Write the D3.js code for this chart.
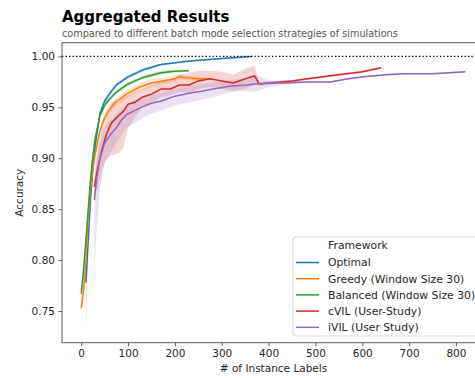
<!DOCTYPE html>
<html lang="en">
<head>
<meta charset="UTF-8">
<title>Aggregated Results</title>
<script src="https://cdn.jsdelivr.net/npm/d3@7"></script>
<style>
  body { margin: 0; background: #fff; }
  text { font-family: "DejaVu Sans", sans-serif; }
</style>
</head>
<body>
<svg></svg>
<script>
// ---- data ----
var optimalX  = [10, 15, 20, 25, 30, 40, 50, 60, 75, 100, 133, 170, 233, 300, 340, 365];
var optimalY  = [0.778, 0.82, 0.86, 0.89, 0.913, 0.944, 0.956, 0.963, 0.972, 0.980, 0.987, 0.992, 0.9956, 0.998, 0.9993, 1.0];
var optimalLo = [0.733, 0.80, 0.852, 0.886, 0.909, 0.941, 0.953, 0.961, 0.970, 0.978, 0.985, 0.991, 0.995, 0.997, 0.999, 0.9995];
var optimalHi = [0.790, 0.835, 0.866, 0.894, 0.917, 0.947, 0.959, 0.966, 0.974, 0.982, 0.989, 0.993, 0.9964, 0.999, 0.9998, 1.0];

var greedyX  = [0, 5, 10, 15, 20, 25, 30, 40, 50, 60, 75, 100, 125, 150, 175, 200, 210, 225, 250, 275];
var greedyY  = [0.753, 0.77, 0.80, 0.84, 0.87, 0.89, 0.905, 0.927, 0.94, 0.948, 0.956, 0.964, 0.970, 0.974, 0.976, 0.978, 0.980, 0.979, 0.978, 0.978];
var greedyLo = [0.745, 0.76, 0.79, 0.83, 0.862, 0.884, 0.899, 0.922, 0.936, 0.944, 0.952, 0.960, 0.966, 0.970, 0.973, 0.975, 0.977, 0.977, 0.976, 0.977];
var greedyHi = [0.762, 0.78, 0.81, 0.85, 0.878, 0.896, 0.911, 0.932, 0.944, 0.952, 0.960, 0.968, 0.974, 0.978, 0.979, 0.981, 0.983, 0.981, 0.980, 0.979];

var balancedX  = [0, 5, 10, 15, 20, 25, 30, 40, 50, 60, 75, 100, 130, 170, 200, 230];
var balancedY  = [0.767, 0.79, 0.82, 0.85, 0.88, 0.903, 0.92, 0.942, 0.952, 0.958, 0.965, 0.973, 0.979, 0.984, 0.9855, 0.986];
var balancedLo = [0.762, 0.785, 0.815, 0.845, 0.876, 0.899, 0.917, 0.939, 0.950, 0.956, 0.963, 0.971, 0.977, 0.982, 0.984, 0.985];
var balancedHi = [0.772, 0.795, 0.825, 0.855, 0.884, 0.907, 0.923, 0.945, 0.954, 0.960, 0.967, 0.975, 0.981, 0.986, 0.987, 0.987];

var cvilX  = [28, 35, 45, 55, 65, 80, 90, 100, 115, 130, 150, 170, 190, 210, 230, 250, 275, 300, 325, 350, 370, 380, 450, 500, 550, 600, 640];
var cvilY  = [0.872, 0.89, 0.91, 0.925, 0.935, 0.942, 0.946, 0.953, 0.955, 0.960, 0.963, 0.968, 0.968, 0.972, 0.972, 0.976, 0.978, 0.976, 0.974, 0.978, 0.981, 0.973, 0.976, 0.979, 0.982, 0.985, 0.989];
var cvilLo = [0.865, 0.87, 0.89, 0.90, 0.903, 0.905, 0.91, 0.93, 0.94, 0.95, 0.953, 0.96, 0.962, 0.965, 0.964, 0.968, 0.97, 0.968, 0.966, 0.968, 0.972, 0.971, 0.975, 0.978, 0.981, 0.984, 0.988];
var cvilHi = [0.880, 0.91, 0.93, 0.945, 0.955, 0.957, 0.96, 0.962, 0.965, 0.968, 0.972, 0.976, 0.978, 0.982, 0.984, 0.986, 0.986, 0.985, 0.982, 0.988, 0.991, 0.975, 0.977, 0.980, 0.983, 0.986, 0.990];

var ivilX  = [28, 33, 40, 50, 62, 75, 85, 97, 115, 133, 150, 170, 200, 233, 260, 282, 320, 354, 370, 400, 435, 480, 531, 570, 602, 650, 688, 750, 820];
var ivilY  = [0.859, 0.88, 0.90, 0.915, 0.923, 0.930, 0.937, 0.943, 0.947, 0.951, 0.954, 0.956, 0.961, 0.964, 0.966, 0.968, 0.971, 0.972, 0.973, 0.974, 0.974, 0.975, 0.975, 0.978, 0.980, 0.982, 0.983, 0.983, 0.985];
var ivilLo = [0.79, 0.83, 0.87, 0.895, 0.905, 0.915, 0.922, 0.93, 0.935, 0.94, 0.944, 0.947, 0.952, 0.955, 0.958, 0.96, 0.965, 0.966, 0.965, 0.970, 0.972, 0.974, 0.974, 0.977, 0.979, 0.981, 0.982, 0.982, 0.984];
var ivilHi = [0.87, 0.90, 0.915, 0.93, 0.937, 0.943, 0.948, 0.953, 0.957, 0.96, 0.962, 0.964, 0.968, 0.971, 0.973, 0.975, 0.977, 0.979, 0.982, 0.977, 0.976, 0.976, 0.976, 0.979, 0.981, 0.983, 0.984, 0.984, 0.986];

var xTicks = [0, 100, 200, 300, 400, 500, 600, 700, 800];
var yTicks = [0.75, 0.80, 0.85, 0.90, 0.95, 1.00];
var names  = ["Optimal", "Greedy (Window Size 30)", "Balanced (Window Size 30)", "cVIL (User-Study)", "iVIL (User Study)"];
var colors = ["#1f77b4", "#ff7f0e", "#2ca02c", "#d62728", "#9467bd"];

var series = [
    {x: optimalX, y: optimalY, lo: optimalLo, hi: optimalHi},
    {x: greedyX, y: greedyY, lo: greedyLo, hi: greedyHi},
    {x: balancedX, y: balancedY, lo: balancedLo, hi: balancedHi},
    {x: cvilX, y: cvilY, lo: cvilLo, hi: cvilHi},
    {x: ivilX, y: ivilY, lo: ivilLo, hi: ivilHi}
];

// ---- layout ----
var width = 475, height = 378;
var plotL = 62, plotT = 42.7, plotR = 485, plotB = 342.7;

var svg = d3.select('svg')
    .attr('width', width)
    .attr('height', height);

var x = d3.scaleLinear().domain([-41, 862]).range([plotL, plotR]);
var y = d3.scaleLinear().domain([0.7189, 1.0135]).range([plotB, plotT]);

svg.append('defs').append('clipPath').attr('id', 'clip')
    .append('rect')
    .attr('x', plotL).attr('y', plotT)
    .attr('width', plotR - plotL).attr('height', plotB - plotT);

var plot = svg.append('g').attr('clip-path', 'url(#clip)');

// confidence bands
var area = d3.area()
    .x(function(d){ return x(d[0]); })
    .y0(function(d){ return y(d[1]); })
    .y1(function(d){ return y(d[2]); });
var line = d3.line()
    .x(function(d){ return x(d[0]); })
    .y(function(d){ return y(d[1]); });

series.forEach(function(s, i){
    var pts = s.x.map(function(v, j){ return [v, s.lo[j], s.hi[j]]; });
    plot.append('path')
        .attr('d', area(pts))
        .attr('fill', colors[i])
        .attr('fill-opacity', 0.2)
        .attr('stroke', 'none');
});
series.forEach(function(s, i){
    var pts = s.x.map(function(v, j){ return [v, s.y[j]]; });
    plot.append('path')
        .attr('d', line(pts))
        .attr('fill', 'none')
        .attr('stroke', colors[i])
        .attr('stroke-width', 1.5)
        .attr('stroke-linejoin', 'round');
});

// dotted reference line at 1.0
svg.append('line')
    .attr('x1', plotL).attr('x2', width)
    .attr('y1', y(1.0)).attr('y2', y(1.0))
    .attr('stroke', '#000')
    .attr('stroke-width', 1.3)
    .attr('stroke-dasharray', '1.3,2.2');

// axes
var xAxis = d3.axisBottom(x).tickValues(xTicks).tickSize(3.5).tickPadding(3.5)
    .tickFormat(d3.format('d'));
var yAxis = d3.axisLeft(y).tickValues(yTicks).tickSize(3.5).tickPadding(3.5)
    .tickFormat(d3.format('.2f'));

var gx = svg.append('g').attr('transform', 'translate(0,' + plotB + ')').call(xAxis);
var gy = svg.append('g').attr('transform', 'translate(' + plotL + ',0)').call(yAxis);
[gx, gy].forEach(function(g){
    g.select('.domain').remove();
    g.selectAll('line').attr('stroke', '#333').attr('stroke-width', 0.8);
    g.selectAll('text').attr('font-size', 10.5).attr('fill', '#262626')
        .attr('font-family', '"DejaVu Sans", sans-serif');
});

// spines
svg.append('line').attr('x1', plotL).attr('x2', plotL).attr('y1', plotT).attr('y2', plotB)
    .attr('stroke', '#333').attr('stroke-width', 0.8);
svg.append('line').attr('x1', plotL).attr('x2', width).attr('y1', plotB).attr('y2', plotB)
    .attr('stroke', '#333').attr('stroke-width', 0.8);
svg.append('line').attr('x1', plotL).attr('x2', width).attr('y1', plotT).attr('y2', plotT)
    .attr('stroke', '#333').attr('stroke-width', 0.8);

// labels
svg.append('text')
    .attr('x', (plotL + plotR) / 2).attr('y', 372)
    .attr('text-anchor', 'middle')
    .attr('font-size', 10.5).attr('fill', '#262626')
    .text('# of Instance Labels');
svg.append('text')
    .attr('transform', 'translate(23,' + ((plotT + plotB) / 2) + ') rotate(-90)')
    .attr('text-anchor', 'middle')
    .attr('font-size', 10.5).attr('fill', '#262626')
    .text('Accuracy');

svg.append('text')
    .attr('x', plotL).attr('y', 22)
    .attr('font-size', 15).attr('font-weight', 'bold').attr('fill', '#000')
    .text('Aggregated Results');
svg.append('text')
    .attr('x', plotL).attr('y', 37)
    .attr('font-size', 9.7).attr('fill', '#555')
    .text('compared to different batch mode selection strategies of simulations');

// legend
var lg = svg.append('g').attr('transform', 'translate(293,237)');
lg.append('rect')
    .attr('width', 195).attr('height', 99)
    .attr('rx', 3)
    .attr('fill', '#fff').attr('fill-opacity', 0.8)
    .attr('stroke', '#ccc').attr('stroke-width', 0.8);
lg.append('text')
    .attr('x', 65).attr('y', 12)
    .attr('text-anchor', 'middle')
    .attr('font-size', 10.8).attr('fill', '#262626')
    .text('Framework');
names.forEach(function(n, i){
    var yy = 25.5 + i * 16.2;
    lg.append('line')
        .attr('x1', 3).attr('x2', 26)
        .attr('y1', yy).attr('y2', yy)
        .attr('stroke', colors[i]).attr('stroke-width', 1.5);
    lg.append('text')
        .attr('x', 35).attr('y', yy + 3.8)
        .attr('font-size', 10.8).attr('fill', '#262626')
        .text(n);
});
</script>
</body>
</html>
